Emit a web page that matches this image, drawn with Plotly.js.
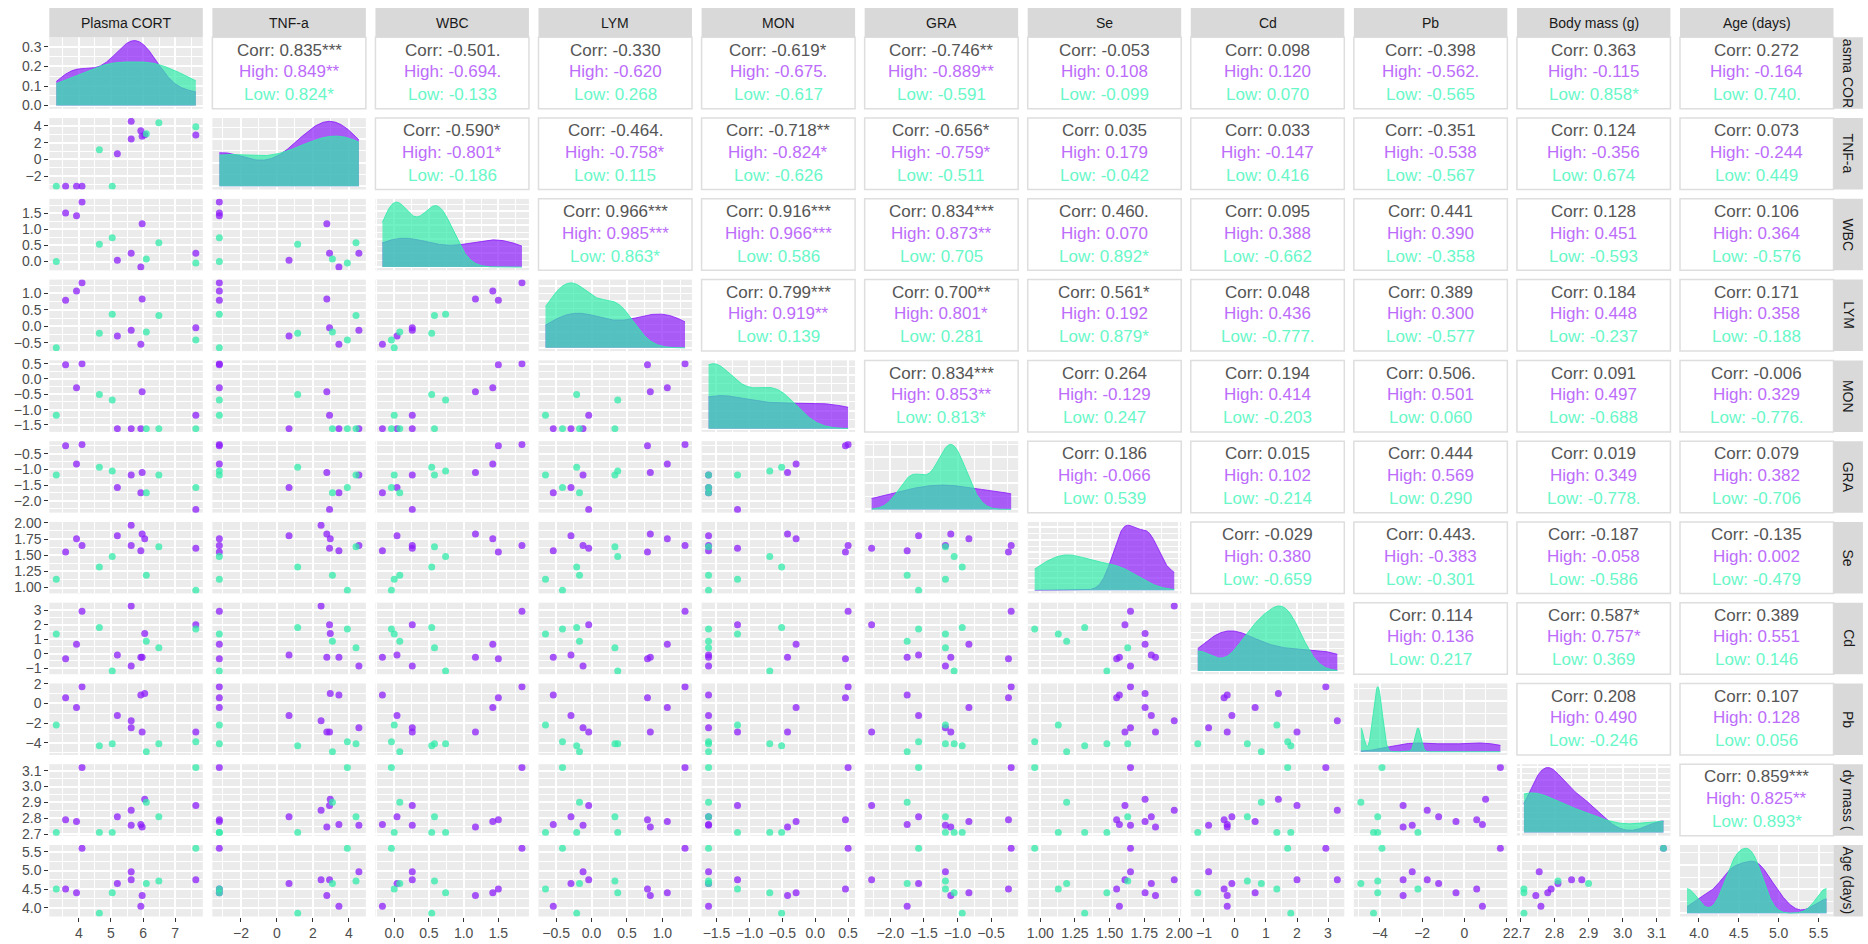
<!DOCTYPE html>
<html>
<head>
<meta charset="utf-8">
<script src="https://cdn.plot.ly/plotly-3.0.1.min.js"></script>
<style>html,body{margin:0;padding:0;background:#fff;}</style>
</head>
<body>
<div id="chart" style="width:1868px;height:944px;"></div>
<script>
// ---------------- data ----------------
const variableNames = ["Plasma CORT","TNF-a","WBC","LYM","MON","GRA","Se","Cd","Pb","Body mass (g)","Age (days)"];
const rowStripLabels = ["asma COR","TNF-a","WBC","LYM","MON","GRA","Se","Cd","Pb","dy mass (","Age (days)"];

const group      = ["High","High","High","High","High","High","High","High","High","High","Low","Low","Low","Low","Low","Low"];
const plasmaCort = [3.59, 3.93, 4.10, 5.20, 5.63, 5.63, 5.93, 5.97, 6.05, 7.64, 3.30, 4.64, 5.04, 6.10, 6.49, 7.64];
const tnfA       = [-3.2, -3.2, -3.2, 0.67, 4.55, 2.45, 3.44, 2.77, 2.96, 2.92, -3.2, 1.15, -3.2, 3.08, 4.39, 3.91];
const wbc        = [1.50, 1.42, 1.84, 0.04, 0.26, null, -0.17, 1.17, null, 0.26, 0.00, 0.54, 0.74, 0.08, 0.58, -0.04];
const lym        = [0.79, 1.07, 1.32, -0.29, -0.12, null, -0.54, 0.83, null, -0.04, -0.65, -0.21, 0.37, -0.17, 0.33, -0.41];
const mon        = [0.46, -0.29, 0.50, -1.62, -1.62, null, -1.62, -0.42, null, -1.18, -1.18, -0.51, -0.69, -1.62, -1.62, -1.62];
const gra        = [-0.24, -0.83, -0.20, -1.58, -1.18, null, -1.75, -1.10, null, -2.28, -1.18, -0.93, -1.05, -1.75, -1.18, -1.58];
const se         = [1.55, 1.755, 1.65, 1.80, 1.65, 1.965, 1.57, 1.83, 1.755, 1.61, 1.13, 1.32, 1.48, 1.19, 1.63, 0.96];
const cd         = [-0.35, 0.65, 2.93, -0.10, -0.85, 3.30, -0.25, -0.25, 1.40, 2.00, 1.35, 1.80, -1.20, 0.85, 0.40, 1.70];
const pb         = [0.58, -0.40, 1.70, -1.22, -2.47, -1.76, 0.85, -2.90, 1.00, -2.90, -2.20, -4.30, -4.10, -4.90, -4.10, -3.90];
const bodyMass   = [2.79, 2.78, 3.12, 2.81, 2.755, 2.85, 2.76, 2.745, 2.92, 2.88, 2.71, 2.71, 2.71, 2.90, 2.81, 3.12];
const age        = [4.50, 4.40, 5.60, 4.65, 4.97, 4.75, 4.04, 4.33, null, 4.75, 4.50, 3.85, 4.40, 4.65, 4.72, 5.60];

// upper-triangle correlation texts, row by row (row i, columns i+1..10)
const corrAll = [
 "0.835***","-0.501.","-0.330","-0.619*","-0.746**","-0.053","0.098","-0.398","0.363","0.272",
 "-0.590*","-0.464.","-0.718**","-0.656*","0.035","0.033","-0.351","0.124","0.073",
 "0.966***","0.916***","0.834***","0.460.","0.095","0.441","0.128","0.106",
 "0.799***","0.700**","0.561*","0.048","0.389","0.184","0.171",
 "0.834***","0.264","0.194","0.506.","0.091","-0.006",
 "0.186","0.015","0.444","0.019","0.079",
 "-0.029","0.443.","-0.187","-0.135",
 "0.114","0.587*","0.389",
 "0.208","0.107",
 "0.859***"];
const corrHigh = [
 "0.849**","-0.694.","-0.620","-0.675.","-0.889**","0.108","0.120","-0.562.","-0.115","-0.164",
 "-0.801*","-0.758*","-0.824*","-0.759*","0.179","-0.147","-0.538","-0.356","-0.244",
 "0.985***","0.966***","0.873**","0.070","0.388","0.390","0.451","0.364",
 "0.919**","0.801*","0.192","0.436","0.300","0.448","0.358",
 "0.853**","-0.129","0.414","0.501","0.497","0.329",
 "-0.066","0.102","0.569","0.349","0.382",
 "0.380","-0.383","-0.058","0.002",
 "0.136","0.757*","0.551",
 "0.490","0.128",
 "0.825**"];
const corrLow = [
 "0.824*","-0.133","0.268","-0.617","-0.591","-0.099","0.070","-0.565","0.858*","0.740.",
 "-0.186","0.115","-0.626","-0.511","-0.042","0.416","-0.567","0.674","0.449",
 "0.863*","0.586","0.705","0.892*","-0.662","-0.358","-0.593","-0.576",
 "0.139","0.281","0.879*","-0.777.","-0.577","-0.237","-0.188",
 "0.813*","0.247","-0.203","0.060","-0.688","-0.776.",
 "0.539","-0.214","0.290","-0.778.","-0.706",
 "-0.659","-0.301","-0.586","-0.479",
 "0.217","0.369","0.146",
 "-0.246","0.056",
 "0.893*"];

// ---------------- styling / geometry ----------------
const vars = [plasmaCort, tnfA, wbc, lym, mon, gra, se, cd, pb, bodyMass, age];
const tickStep = [1, 2, 0.5, 0.5, 0.5, 0.5, 0.25, 1, 2, 0.1, 0.5];
const tickFmt  = ["d","d",".1f",".1f",".1f",".1f",".2f","d","d",".1f",".1f"];
const N = vars.length;
const W = 1868, H = 944;
const PX0 = 49.3, CPITCH = 163.07, PW = 153.5;
const PY0 = 37.3, RPITCH = 80.77, PH = 71.5;
const STRIP = 29.4;
const PURPLE = [140, 30, 250], GREEN = [50, 235, 170];
const rgba = (c, a) => `rgba(${c[0]},${c[1]},${c[2]},${a})`;
const FONT = "Liberation Sans, Arial, sans-serif";

function colX(j){ return PX0 + j*CPITCH; }
function rowY(i){ return PY0 + i*RPITCH; }
function xDom(j){ return [colX(j)/W, (colX(j)+PW)/W]; }
function yDom(i){ return [1 - (rowY(i)+PH)/H, 1 - rowY(i)/H]; }
function vals(v){ return v.filter(x => x !== null && x !== undefined); }
function dataRange(v){ const a = vals(v); return [Math.min(...a), Math.max(...a)]; }
function expRange(v){ const r = dataRange(v); const p = (r[1]-r[0])*0.05; return [r[0]-p, r[1]+p]; }

function quant7(s, p){ const h = (s.length-1)*p; const lo = Math.floor(h); const hi = Math.min(lo+1, s.length-1); return s[lo] + (h-lo)*(s[hi]-s[lo]); }
function bwNrd0(x){
  const n = x.length; const m = x.reduce((a,b)=>a+b,0)/n;
  const sd = Math.sqrt(x.reduce((a,b)=>a+(b-m)*(b-m),0)/(n-1));
  const s = [...x].sort((a,b)=>a-b);
  const iqr = quant7(s,0.75) - quant7(s,0.25);
  let lo = Math.min(sd, iqr/1.34);
  if (!lo) lo = sd || Math.abs(x[0]) || 1;
  return 0.9*lo*Math.pow(n,-0.2);
}
function kde(x, grid){
  const bw = bwNrd0(x), n = x.length, c = 1/(n*bw*Math.sqrt(2*Math.PI));
  return grid.map(g => c*x.reduce((a,xi)=>a+Math.exp(-0.5*((g-xi)/bw)**2),0));
}
function niceStep(maxv){
  const raw = maxv/4; const p = Math.pow(10, Math.floor(Math.log10(raw))); const f = raw/p;
  const m = f < 1.5 ? 1 : f < 3 ? 2 : f < 7 ? 5 : 10; return m*p;
}

const traces = [];
const layout = {
  width: W, height: H, autosize: false,
  margin: {l:0, r:0, t:0, b:0},
  paper_bgcolor: "#FFFFFF", plot_bgcolor: "#EBEBEB",
  showlegend: false, font: {family: FONT},
  shapes: [], annotations: []
};

function axisBase(step, fmt, range, showLabels){
  return {
    range: range, autorange: false, fixedrange: true,
    tickmode: "linear", tick0: 0, dtick: step, tickformat: fmt,
    showgrid: true, gridcolor: "#FFFFFF", gridwidth: 2,
    minor: {tickmode: "linear", tick0: 0, dtick: step/2, showgrid: true, gridcolor: "#FFFFFF", gridwidth: 1, ticks: ""},
    zeroline: false, showline: false, automargin: false,
    showticklabels: showLabels, ticks: showLabels ? "outside" : "",
    ticklen: 4, tickwidth: 1, tickcolor: "#333333",
    tickfont: {family: FONT, size: 14, color: "#4D4D4D"}
  };
}

const isHigh = group.map(g => g === "High");
let k = 0;
for (let i = 0; i < N; i++){
  for (let j = 0; j <= i; j++){
    k++;
    const xn = "xaxis" + (k === 1 ? "" : k), yn = "yaxis" + (k === 1 ? "" : k);
    const xr = "x" + (k === 1 ? "" : k), yr = "y" + (k === 1 ? "" : k);
    const xa = axisBase(tickStep[j], tickFmt[j], expRange(vars[j]), i === N-1);
    xa.domain = xDom(j); xa.anchor = yr;
    layout[xn] = xa;
    if (i === j){
      // density panel
      const r = dataRange(vars[i]);
      const grid = []; for (let g = 0; g < 512; g++) grid.push(r[0] + (r[1]-r[0])*g/511);
      const hv = vals(vars[i].filter((_,o)=>isHigh[o]));
      const lv = vals(vars[i].filter((_,o)=>!isHigh[o]));
      const dh = kde(hv, grid), dl = kde(lv, grid);
      const mx = Math.max(...dh, ...dl);
      const step = niceStep(mx);
      const ya = axisBase(step, ".1f", [-0.05*mx, 1.05*mx], j === 0);
      ya.domain = yDom(i); ya.anchor = xr;
      layout[yn] = ya;
      traces.push({type:"scatter", mode:"lines", x: grid, y: dh, xaxis: xr, yaxis: yr,
        fill:"tozeroy", fillcolor: rgba(PURPLE,0.7), line:{color: rgba(PURPLE,0.85), width:1}, hoverinfo:"skip"});
      traces.push({type:"scatter", mode:"lines", x: grid, y: dl, xaxis: xr, yaxis: yr,
        fill:"tozeroy", fillcolor: rgba(GREEN,0.7), line:{color: rgba(GREEN,0.85), width:1}, hoverinfo:"skip"});
    } else {
      const ya = axisBase(tickStep[i], tickFmt[i], expRange(vars[i]), j === 0);
      ya.domain = yDom(i); ya.anchor = xr;
      layout[yn] = ya;
      [[true, PURPLE], [false, GREEN]].forEach(([hi, col]) => {
        const xs = [], ys = [];
        vars[j].forEach((v,o) => { if (isHigh[o] === hi){ xs.push(v); ys.push(vars[i][o]); } });
        traces.push({type:"scatter", mode:"markers", x: xs, y: ys, xaxis: xr, yaxis: yr,
          marker:{size:7, color: rgba(col,0.75), line:{width:0}}, hoverinfo:"skip"});
      });
    }
  }
}

// upper panels: white boxes with correlation text
let u = 0;
for (let i = 0; i < N; i++){
  for (let j = i+1; j < N; j++){
    const x0 = colX(j), y0 = rowY(i);
    layout.shapes.push({type:"rect", xref:"paper", yref:"paper",
      x0: x0/W, x1: (x0+PW)/W, y0: 1-(y0+PH)/H, y1: 1-y0/H,
      fillcolor:"#FFFFFF", line:{color:"#DEDEDE", width:1.5}});
    const cx = (x0 + PW/2)/W, cy = y0 + PH/2;
    const lines = [["Corr: " + corrAll[u], "#555555", -23], ["High: " + corrHigh[u], "rgb(188,108,250)", -1.5], ["Low: " + corrLow[u], "rgb(105,247,200)", 21.5]];
    lines.forEach(([t, c, dy]) => layout.annotations.push({xref:"paper", yref:"paper", x: cx, y: 1-(cy+dy)/H,
      text: t, showarrow:false, xanchor:"center", yanchor:"middle", font:{family: FONT, size:17, color:c}}));
    u++;
  }
}

// strips
for (let j = 0; j < N; j++){
  const x0 = colX(j);
  layout.shapes.push({type:"rect", xref:"paper", yref:"paper", x0: x0/W, x1:(x0+PW)/W,
    y0: 1-(PY0)/H, y1: 1-(PY0-STRIP)/H, fillcolor:"#D9D9D9", line:{width:0}});
  layout.annotations.push({xref:"paper", yref:"paper", x:(x0+PW/2)/W, y: 1-(PY0-STRIP/2)/H,
    text: variableNames[j], showarrow:false, xanchor:"center", yanchor:"middle",
    font:{family: FONT, size:14, color:"#1A1A1A"}});
}
const SX0 = colX(N-1) + PW;
for (let i = 0; i < N; i++){
  const y0 = rowY(i);
  layout.shapes.push({type:"rect", xref:"paper", yref:"paper", x0: SX0/W, x1:(SX0+STRIP)/W,
    y0: 1-(y0+PH)/H, y1: 1-y0/H, fillcolor:"#D9D9D9", line:{width:0}});
  layout.annotations.push({xref:"paper", yref:"paper", x:(SX0+STRIP/2)/W, y: 1-(y0+PH/2)/H,
    text: rowStripLabels[i], textangle: 90, showarrow:false, xanchor:"center", yanchor:"middle",
    font:{family: FONT, size:14, color:"#1A1A1A"}});
}

Plotly.newPlot("chart", traces, layout, {staticPlot:true, displayModeBar:false});
</script>
</body>
</html>
